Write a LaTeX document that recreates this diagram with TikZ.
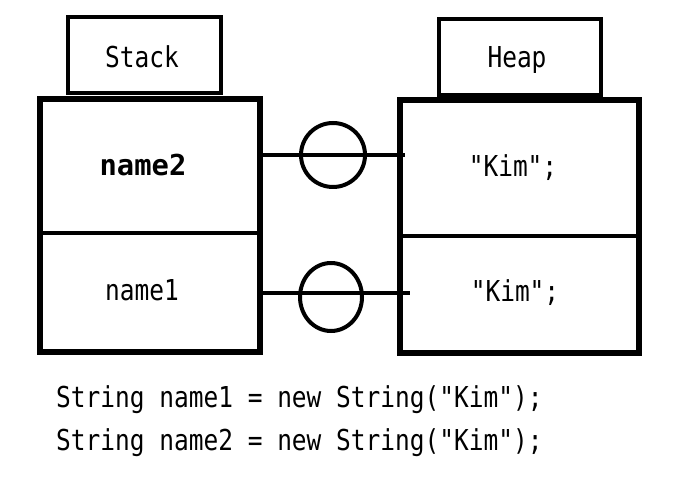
\documentclass[tikz,border=0pt]{standalone}
\usetikzlibrary{shapes.geometric}
\usepackage{fontspec}
\newfontfamily\codefont{DejaVu Sans Mono}[FakeStretch=0.85]
\newfontfamily\codebold{DejaVu Sans Mono Bold}
\begin{document}
\begin{tikzpicture}[x=1pt,y=-1pt,
  lbl/.style={draw=black,line width=4pt,minimum width=#1,minimum height=76pt,inner sep=0pt},
  cell/.style={draw=black,line width=4pt,inner sep=0pt},
  txt/.style={inner sep=0pt,anchor=base,font=\fontsize{28.8}{34}\codefont},
  ring/.style={draw=black,line width=4pt,circle,minimum size=64pt,inner sep=0pt},
  wire/.style={draw=black,line width=4pt}]
\useasboundingbox (0,0) rectangle (683,502);
% label boxes
\node[lbl=153pt] (stacklbl) at (144.5,55) {};
\node[lbl=162pt] (heaplbl) at (520,57) {};
% stack cells
\node[cell,minimum width=220pt,minimum height=134pt] (s2) at (150,166) {};
\node[cell,minimum width=220pt,minimum height=119pt] (s1) at (150,292.5) {};
\draw[line width=5.5pt] (40,99) rectangle (260,352);
% heap cells
\node[cell,minimum width=239pt,minimum height=136pt] (h2) at (519.5,168) {};
\node[cell,minimum width=239pt,minimum height=117pt] (h1) at (519.5,294.5) {};
\draw[line width=5.5pt] (400,100) rectangle (639,353);
% texts
\node[txt] (tstack) at (142,68) {Stack};
\node[txt] (theap) at (517,68) {Heap};
\node[txt,font=\fontsize{28.8}{34}\codebold] (tname2) at (143,176) {name2};
\node[txt] (tname1) at (142,301) {name1};
\node[txt] (tkim2) at (513,177) {"Kim";};
\node[txt] (tkim1) at (515,302) {"Kim";};
% connectors
\coordinate (a2) at (260,155);
\coordinate (b2) at (405,155);
\coordinate (a1) at (260,293);
\coordinate (b1) at (410,293);
\draw[wire] (a2) -- (b2);
\draw[wire] (a1) -- (b1);
\node[ring] (r2) at (333,155) {};
\node[draw=black,line width=4pt,ellipse,minimum width=62pt,minimum height=68pt,inner sep=0pt] (r1) at (331,297) {};
% code
\node[txt,anchor=base west] (code1) at (56,408) {String name1 = new String("Kim");};
\node[txt,anchor=base west] (code2) at (56,450) {String name2 = new String("Kim");};
\end{tikzpicture}
\end{document}
